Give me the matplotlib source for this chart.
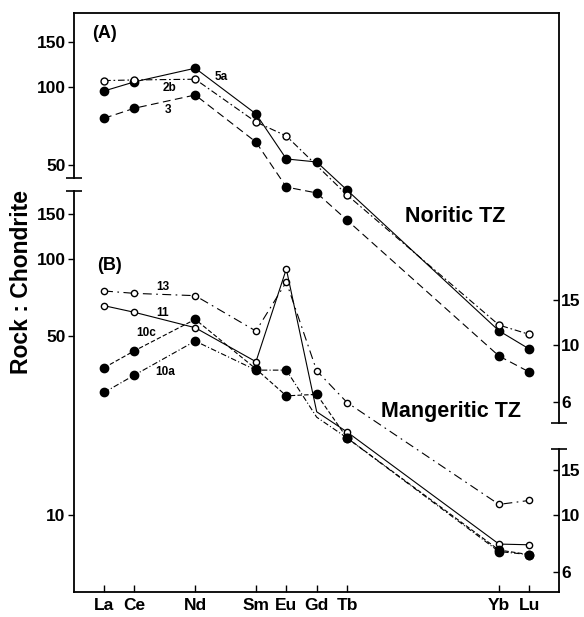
import matplotlib
matplotlib.use('Agg')
import matplotlib.pyplot as plt
from matplotlib.ticker import FixedLocator, FixedFormatter, NullLocator

plt.rcParams['font.family'] = ['Liberation Sans', 'DejaVu Sans']
plt.rcParams['font.weight'] = 'bold'

# REE on x axis, placed by atomic number
elements = ['La', 'Ce', 'Nd', 'Sm', 'Eu', 'Gd', 'Tb', 'Yb', 'Lu']
z = [57, 58, 60, 62, 63, 64, 65, 70, 71]

# (A) Noritic TZ
a_5a = [96.7, 104.9, 118.5, 78.8, 52.7, 51.3, 39.9, 11.36, 9.65]
a_2b = [106.1, 106.7, 107.4, 73.3, 64.7, None, 38.2, 11.96, 11.0]
a_3 = [75.8, 82.9, 93.3, 61.3, 41.0, 38.9, 30.5, 9.07, 7.86]

# (B) Mangeritic TZ
b_13 = [75.0, 73.4, 71.9, 52.3, 81.3, 36.6, 27.5, 11.0, 11.4]
b_11 = [65.7, 61.9, 53.9, 39.7, 91.4, 25.3, 21.1, 7.7, 7.65]
b_10c = [37.6, 43.8, 58.1, 37.2, 29.2, 29.6, 20.0, 7.3, 7.0]
b_10a = [30.1, 35.2, 47.8, 36.8, 36.8, 24.1, 20.0, 7.2, 7.0]

left_ticks_a = [50, 100, 150]
left_ticks_b = [10, 50, 100, 150]
right_ticks = [6, 10, 15]

xlim = (56.01, 71.96)
ylim_a = (5.0, 194)
ylim_b = (4.99, 184.3)


def serie(ax, vals, filled, dashes, ms, no_marker=()):
    xs, ys, marks = [], [], []
    for el, zi, v in zip(elements, z, vals):
        if v is None:
            continue
        if el not in no_marker:
            marks.append(len(xs))
        xs.append(zi)
        ys.append(v)
    ln, = ax.plot(xs, ys, color='k', lw=0.8, marker='o', ms=ms,
                  markevery=marks, mfc='k' if filled else 'white',
                  mec='k', mew=1.0)
    if dashes:
        ln.set_dashes(dashes)


def cap(ax, x, y):
    ax.plot([x], [y], marker='_', ms=11, mew=1.2, color='k',
            transform=ax.get_yaxis_transform(), clip_on=False)


fig = plt.figure(figsize=(5.84, 6.17), dpi=100)
L = 74 / 584
W = (558.5 - 74) / 584
axA = fig.add_axes([L, 1 - 422.7 / 617, W, (422.7 - 13) / 617])
axB = fig.add_axes([L, 1 - 592.3 / 617, W, (592.3 - 191) / 617])

for ax, lim in ((axA, ylim_a), (axB, ylim_b)):
    ax.patch.set_visible(False)
    ax.set_yscale('log')
    ax.set_xlim(*xlim)
    ax.set_ylim(*lim)
    ax.yaxis.set_minor_locator(NullLocator())
    ax.tick_params(axis='y', which='major', direction='out', length=4,
                   width=1, pad=2, labelsize=12.5)
    for s in ax.spines.values():
        s.set_linewidth(1.3)

# panel A
serie(axA, a_5a, True, None, 6)
serie(axA, a_2b, False, (6, 2.5, 1.5, 2.5), 5)
serie(axA, a_3, True, (7, 4), 6)

axA.yaxis.set_major_locator(FixedLocator(left_ticks_a))
axA.yaxis.set_major_formatter(FixedFormatter([str(t) for t in left_ticks_a]))
axA.set_xticks([])
axA.spines['bottom'].set_visible(False)
axA.spines['right'].set_visible(False)
axA.spines['left'].set_bounds(44.5, ylim_a[1])
cap(axA, 0, 44.5)

axA2 = axA.twinx()
axA2.set_yscale('log')
axA2.set_ylim(*ylim_a)
axA2.yaxis.set_minor_locator(NullLocator())
axA2.yaxis.set_major_locator(FixedLocator(right_ticks))
axA2.yaxis.set_major_formatter(FixedFormatter([str(t) for t in right_ticks]))
axA2.tick_params(axis='y', direction='in', length=4, width=1, pad=2,
                 labelsize=12.5)
for k in ('left', 'top', 'bottom'):
    axA2.spines[k].set_visible(False)
axA2.spines['right'].set_linewidth(1.3)
cap(axA2, 1, ylim_a[0])

axA.text(57.0, 162, '(A)', fontsize=13, ha='center', va='center')
axA.text(60.87, 109.3, '5a', fontsize=8.5, ha='center', va='center')
axA.text(59.14, 99.1, '2b', fontsize=8.5, ha='center', va='center')
axA.text(59.10, 81.6, '3', fontsize=8.5, ha='center', va='center')
axA.text(68.55, 31.4, 'Noritic TZ', fontsize=15.5, ha='center', va='center')

# panel B
serie(axB, b_13, False, (8, 4, 1.5, 4), 4.5)
serie(axB, b_11, False, None, 4.5, no_marker=('Gd',))
serie(axB, b_10c, True, (4, 2), 6)
serie(axB, b_10a, True, (5, 2, 1, 2), 6, no_marker=('Gd',))

axB.yaxis.set_major_locator(FixedLocator(left_ticks_b))
axB.yaxis.set_major_formatter(FixedFormatter([str(t) for t in left_ticks_b]))
axB.set_xticks(z)
axB.set_xticklabels(elements)
axB.tick_params(axis='x', direction='in', length=5, width=1, pad=4,
                labelsize=12.5)
axB.spines['top'].set_visible(False)
axB.spines['right'].set_visible(False)
cap(axB, 0, ylim_b[1])

axB2 = axB.twinx()
axB2.set_yscale('log')
axB2.set_ylim(*ylim_b)
axB2.yaxis.set_minor_locator(NullLocator())
axB2.yaxis.set_major_locator(FixedLocator(right_ticks))
axB2.yaxis.set_major_formatter(FixedFormatter([str(t) for t in right_ticks]))
axB2.tick_params(axis='y', direction='in', length=4, width=1, pad=2,
                 labelsize=12.5)
for k in ('left', 'top', 'bottom'):
    axB2.spines[k].set_visible(False)
axB2.spines['right'].set_linewidth(1.3)
axB2.spines['right'].set_bounds(ylim_b[0], 18.06)
cap(axB2, 1, 18.06)

axB.text(57.19, 94.7, '(B)', fontsize=13, ha='center', va='center')
axB.text(58.94, 77.9, '13', fontsize=8.5, ha='center', va='center')
axB.text(58.94, 61.4, '11', fontsize=8.5, ha='center', va='center')
axB.text(58.40, 51.3, '10c', fontsize=8.5, ha='center', va='center')
axB.text(59.0, 36.3, '10a', fontsize=8.5, ha='center', va='center')
axB.text(68.42, 25.3, 'Mangeritic TZ', fontsize=15.5, ha='center',
         va='center')

fig.text(22 / 584, 1 - 282 / 617, 'Rock : Chondrite', rotation=90,
         fontsize=16.5, ha='center', va='center')

fig.savefig('out.png', dpi=100)
